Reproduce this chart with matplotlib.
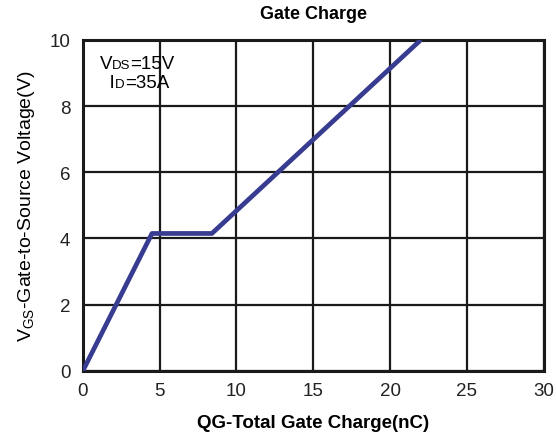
import matplotlib.pyplot as plt
from matplotlib.offsetbox import TextArea, HPacker, VPacker, AnchoredOffsetbox

plt.rcParams['font.family'] = ['Liberation Sans', 'DejaVu Sans']

# gate charge curve (nC, V)
qg = [0.0, 4.5, 8.4, 22.0]
vgs = [0.0, 4.15, 4.15, 10.0]

x_ticks = [0, 5, 10, 15, 20, 25, 30]
y_ticks = [0, 2, 4, 6, 8, 10]

fig = plt.figure(figsize=(5.56, 4.39), dpi=100)
ax = fig.add_axes([0.149, 0.153, 0.829, 0.754])

ax.plot(qg, vgs, color='#383c90', linewidth=3.4, solid_capstyle='butt', zorder=3)

ax.set_xlim(0, 30)
ax.set_ylim(0, 10)
ax.set_xticks(x_ticks)
ax.set_yticks(y_ticks)
ax.tick_params(length=0, labelsize=13.5, colors='#222222')
ax.tick_params(axis='x', pad=8)
ax.tick_params(axis='y', pad=9)
ax.grid(True, color='#1a1a1a', linewidth=1.6)
for s in ax.spines.values():
    s.set_linewidth(2.2)
    s.set_color('#1a1a1a')

ax.set_title('Gate Charge', fontsize=13, fontweight='bold', pad=16, y=1.0)
ax.title.set_position((0.5, 1.0))
ax.set_xlabel('QG-Total Gate Charge(nC)', fontsize=13.5, fontweight='bold', labelpad=11)
ax.set_ylabel(r'V$_{\mathregular{GS}}$-Gate-to-Source Voltage(V)', fontsize=14,
              labelpad=9)

# condition label: small subscripts sitting on the baseline
def cond(main, sub, rest):
    parts = [TextArea(main, textprops=dict(fontsize=13.5)),
             TextArea(sub, textprops=dict(fontsize=9.5)),
             TextArea(rest, textprops=dict(fontsize=13.5))]
    return HPacker(children=parts, align='baseline', pad=0, sep=0)

box = VPacker(children=[cond('V', 'DS', '=15V'), cond('  I', 'D', '=35A')],
              align='left', pad=0, sep=1)
anch = AnchoredOffsetbox(loc='upper left', child=box, frameon=False,
                         bbox_to_anchor=(0.024, 0.97), bbox_transform=ax.transAxes,
                         borderpad=0)
ax.add_artist(anch)

fig.savefig('out.png', dpi=100)
